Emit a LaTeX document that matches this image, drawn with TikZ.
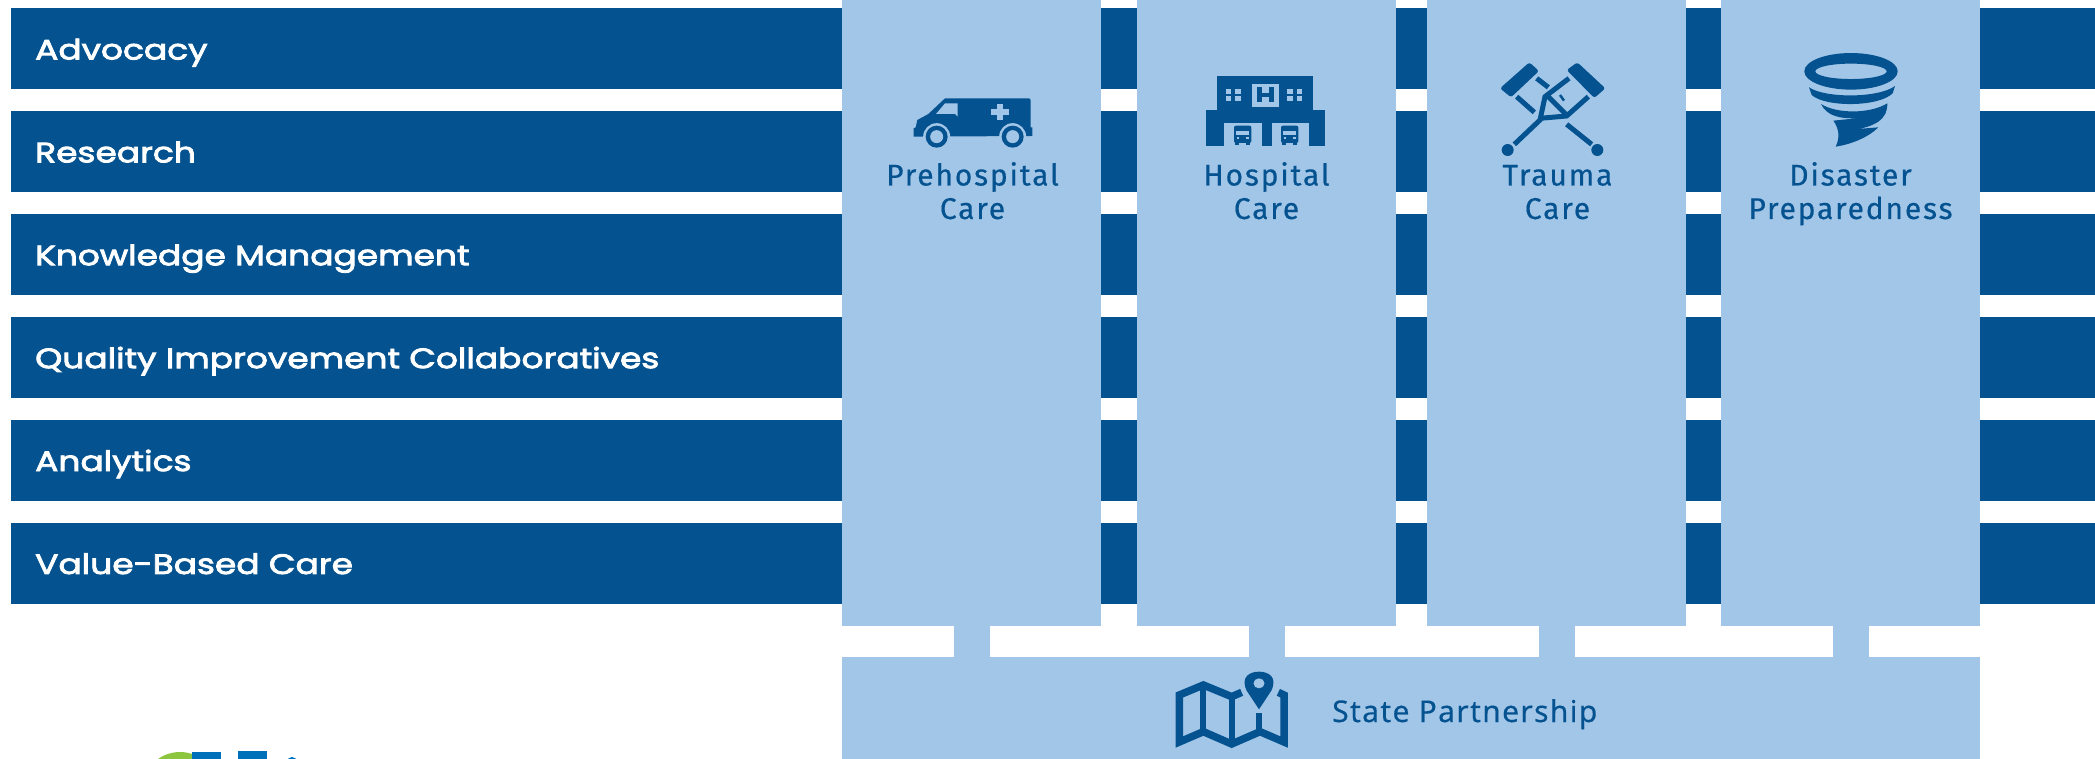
\documentclass[tikz,border=0pt]{standalone}
\usepackage{fontspec}
\usepackage{pgf, tikz}
\usetikzlibrary{positioning, shapes}
\setmainfont[LetterSpace=6, FakeBold=0.4]{Fira Sans}
\newfontfamily\barFont[FakeStretch=1.23, FakeBold=3]{Poppins}
\newfontfamily\stateFont[LetterSpace=4.5, FakeBold=0.3]{Noto Sans}
\definecolor{darkBlue}{HTML}{04528F}
\definecolor{lightBlue}{HTML}{A2C6E8}
\definecolor{logoBlue}{HTML}{0070BA}
\definecolor{logoGreen}{HTML}{8CC63F}
\definecolor{logoLime}{HTML}{C5DC5A}

\begin{document}
\begin{tikzpicture}[
    x = 1pt, y = -1pt,
    barNode/.append style = {rectangle, fill = darkBlue, text = white, anchor = north west, minimum height = 81pt, minimum width = 2084pt, inner xsep = 24pt, inner ysep = 0pt, text height = 21.5pt, text depth = 0pt, text width = 2036pt, align = left, font = \barFont\fontsize{28}{32}\selectfont},
    colNode/.append style = {rectangle, fill = lightBlue, anchor = north west, minimum width = 259pt, minimum height = 626pt, inner sep = 0pt},
    colText/.append style = {text = darkBlue, align = center, inner sep = 0pt, font = \fontsize{30}{33.5}\selectfont},
    stemLine/.append style = {draw = lightBlue, line width = 36pt},
    iconScale/.append style = {x = 0.3333pt, y = -0.3333pt},
    thinIcon/.append style = {draw = darkBlue, line width = 5pt},
    node distance = 21.5pt
    ]
      \useasboundingbox (0,0) rectangle (2095,759);
      \clip (0,0) rectangle (2095,759);

      \node[barNode] (advocacy) at (11,8) {Advocacy};
      \node[barNode, below = of advocacy.south west, anchor = north west] (research) {Research};
      \node[barNode, below = of research.south west, anchor = north west] (knowledge) {Knowledge Management};
      \node[barNode, below = of knowledge.south west, anchor = north west] (quality) {Quality Improvement Collaboratives};
      \node[barNode, below = of quality.south west, anchor = north west] (analytics) {Analytics};
      \node[barNode, below = of analytics.south west, anchor = north west] (value) {Value-Based Care};

      \node[colNode] (prehospital) at (842,0) {};
      \node[colNode] (hospital) at (1137,0) {};
      \node[colNode] (trauma) at (1427,0) {};
      \node[colNode] (disaster) at (1721,0) {};
      \node[rectangle, fill = lightBlue, anchor = north west, minimum width = 1138pt, minimum height = 102pt, inner sep = 0pt] (state) at (842,657) {};

      %% Stems

      \draw[stemLine] (prehospital.south) -- (prehospital.south |- state.north);
      \draw[stemLine] (hospital.south) -- (hospital.south |- state.north);
      \draw[stemLine] (trauma.south) -- (trauma.south |- state.north);
      \draw[stemLine] (disaster.south) -- (disaster.south |- state.north);

      %% Labels

      \node[colText, anchor = base] (prehospitalText) at (972.5,219) {Prehospital\\Care};
      \node[colText, anchor = base] (hospitalText) at (1266.5,219) {Hospital\\Care};
      \node[colText, anchor = base] (traumaText) at (1557.5,219) {Trauma\\Care};
      \node[colText, anchor = base] (disasterText) at (1850.5,219) {Disaster\\Preparedness};
      \node[text = darkBlue, inner sep = 0pt, anchor = base west, font = \stateFont\fontsize{30}{32}\selectfont] (stateText) at (1332,722) {State Partnership};

      %% Ambulance

      \begin{scope}[shift = {(900,90)}, iconScale]
        \fill[darkBlue] (41,140) -- (41,115) -- (47,112) -- (52,90) -- (85,72) -- (135,25) -- (388,25) -- (392,30) -- (392,112) -- (397,112) -- (397,138) -- cycle;
        \fill[lightBlue] (108,72) -- (135,40) -- (173,40) -- (173,80) -- (165,72) -- cycle;
        \fill[lightBlue] (292,43) rectangle (308,90);
        \fill[lightBlue] (274,58) rectangle (328,74);
        \foreach \wheelX in {110, 338} {
          \fill[lightBlue] (\wheelX,140) circle (13.5pt);
          \fill[darkBlue] (\wheelX,140) circle (11pt);
          \fill[lightBlue] (\wheelX,140) circle (6.5pt);
        }
      \end{scope}

      %% Hospital

      \begin{scope}[shift = {(1190,65)}, iconScale]
        \fill[darkBlue] (80,32) rectangle (370,135);
        \fill[darkBlue] (48,135) rectangle (405,242);
        \fill[lightBlue] (103,175) rectangle (217,242);
        \fill[lightBlue] (245,175) rectangle (358,242);
        \fill[lightBlue] (187,58) rectangle (267,125);
        \fill[darkBlue] (202,67) rectangle (216,112);
        \fill[darkBlue] (237,67) rectangle (251,112);
        \fill[darkBlue] (202,83) rectangle (251,95);
        \foreach \winX in {107, 135, 292, 320} {
          \foreach \winY in {71, 93} {
            \fill[lightBlue] (\winX,\winY) rectangle ++(17,16);
          }
        }
        \foreach \busX in {158, 299} {
          \fill[darkBlue, rounded corners = 2pt] (\busX-26,182) rectangle (\busX+26,234);
          \fill[darkBlue] (\busX-22,230) rectangle (\busX-10,241);
          \fill[darkBlue] (\busX+10,230) rectangle (\busX+22,241);
          \fill[lightBlue] (\busX-20,197) rectangle (\busX+20,209);
          \fill[lightBlue] (\busX-18,217) rectangle (\busX-10,223);
          \fill[lightBlue] (\busX+10,217) rectangle (\busX+18,223);
        }
      \end{scope}

      %% Crutches

      \begin{scope}[shift = {(1495,55)}, iconScale]
        \fill[darkBlue, rounded corners = 2.5pt] (15,100) -- (103,22) -- (132,48) -- (48,127) -- cycle;
        \fill[darkBlue, rounded corners = 2.5pt] (215,45) -- (247,22) -- (331,100) -- (298,129) -- cycle;
        \fill[darkBlue] (38,285) circle (6pt);
        \fill[darkBlue] (307,285) circle (6pt);
        \draw[thinIcon] (58,268) -- (135,195) -- (150,125) -- (222,70);
        \draw[thinIcon] (135,190) -- (215,183) -- (280,125);
        \draw[thinIcon] (160,125) -- (215,180);
        \draw[thinIcon] (125,70) -- (160,97);
        \draw[thinIcon] (65,125) -- (118,172);
        \draw[thinIcon] (215,208) -- (290,268);
        \draw[darkBlue, line width = 2.5pt] (195,120) -- (207,137);
      \end{scope}

      %% Tornado

      \begin{scope}[shift = {(1800,50)}, iconScale]
        \fill[darkBlue, even odd rule] (153,64) ellipse [x radius = 46.7pt, y radius = 18.3pt] (153,64) ellipse [x radius = 35.7pt, y radius = 7.7pt];
        \fill[darkBlue] (27,112) .. controls (75,145) and (235,145) .. (285,108) -- (278,130) .. controls (235,172) and (75,172) .. (35,135) -- cycle;
        \fill[darkBlue] (63,162) .. controls (110,192) and (210,192) .. (262,160) .. controls (262,185) and (255,200) .. (235,215) .. controls (215,228) and (190,236) .. (160,238) -- (235,232) .. controls (210,258) and (160,282) .. (107,290) .. controls (120,262) and (118,238) .. (100,212) -- (178,204) .. controls (120,208) and (80,198) .. (63,162) -- cycle;
      \end{scope}

      %% Map

      \begin{scope}[shift = {(1160,660)}, iconScale]
        \draw[darkBlue, line width = 7.5pt, miter limit = 4] (355,97) -- (372,105) -- (372,246) -- (300,215) -- (215,252) -- (130,215) -- (58,246) -- (58,105) -- (130,75) -- (215,110) -- (245,97);
        \draw[darkBlue, line width = 6pt] (130,75) -- (130,215);
        \draw[darkBlue, line width = 6pt] (215,110) -- (215,252);
        \draw[darkBlue, line width = 6pt] (297,160) -- (297,215);
        \fill[darkBlue] (297,148) -- (260,92) .. controls (240,50) and (270,35) .. (297,35) .. controls (324,35) and (354,50) .. (334,92) -- cycle;
        \fill[lightBlue] (297,70) ellipse [x radius = 5.5pt, y radius = 5pt];
      \end{scope}

      %% Logo

      \fill[logoGreen] (180,790) circle (38pt);
      \fill[logoLime] (192,752) -- (203,759) -- (192,759) -- cycle;
      \fill[logoBlue] (192,752) rectangle (221,759);
      \fill[logoBlue] (238,751) rectangle (267,759);
      \fill[logoBlue] (292,762) circle (5pt);
    \end{tikzpicture}
\end{document}
